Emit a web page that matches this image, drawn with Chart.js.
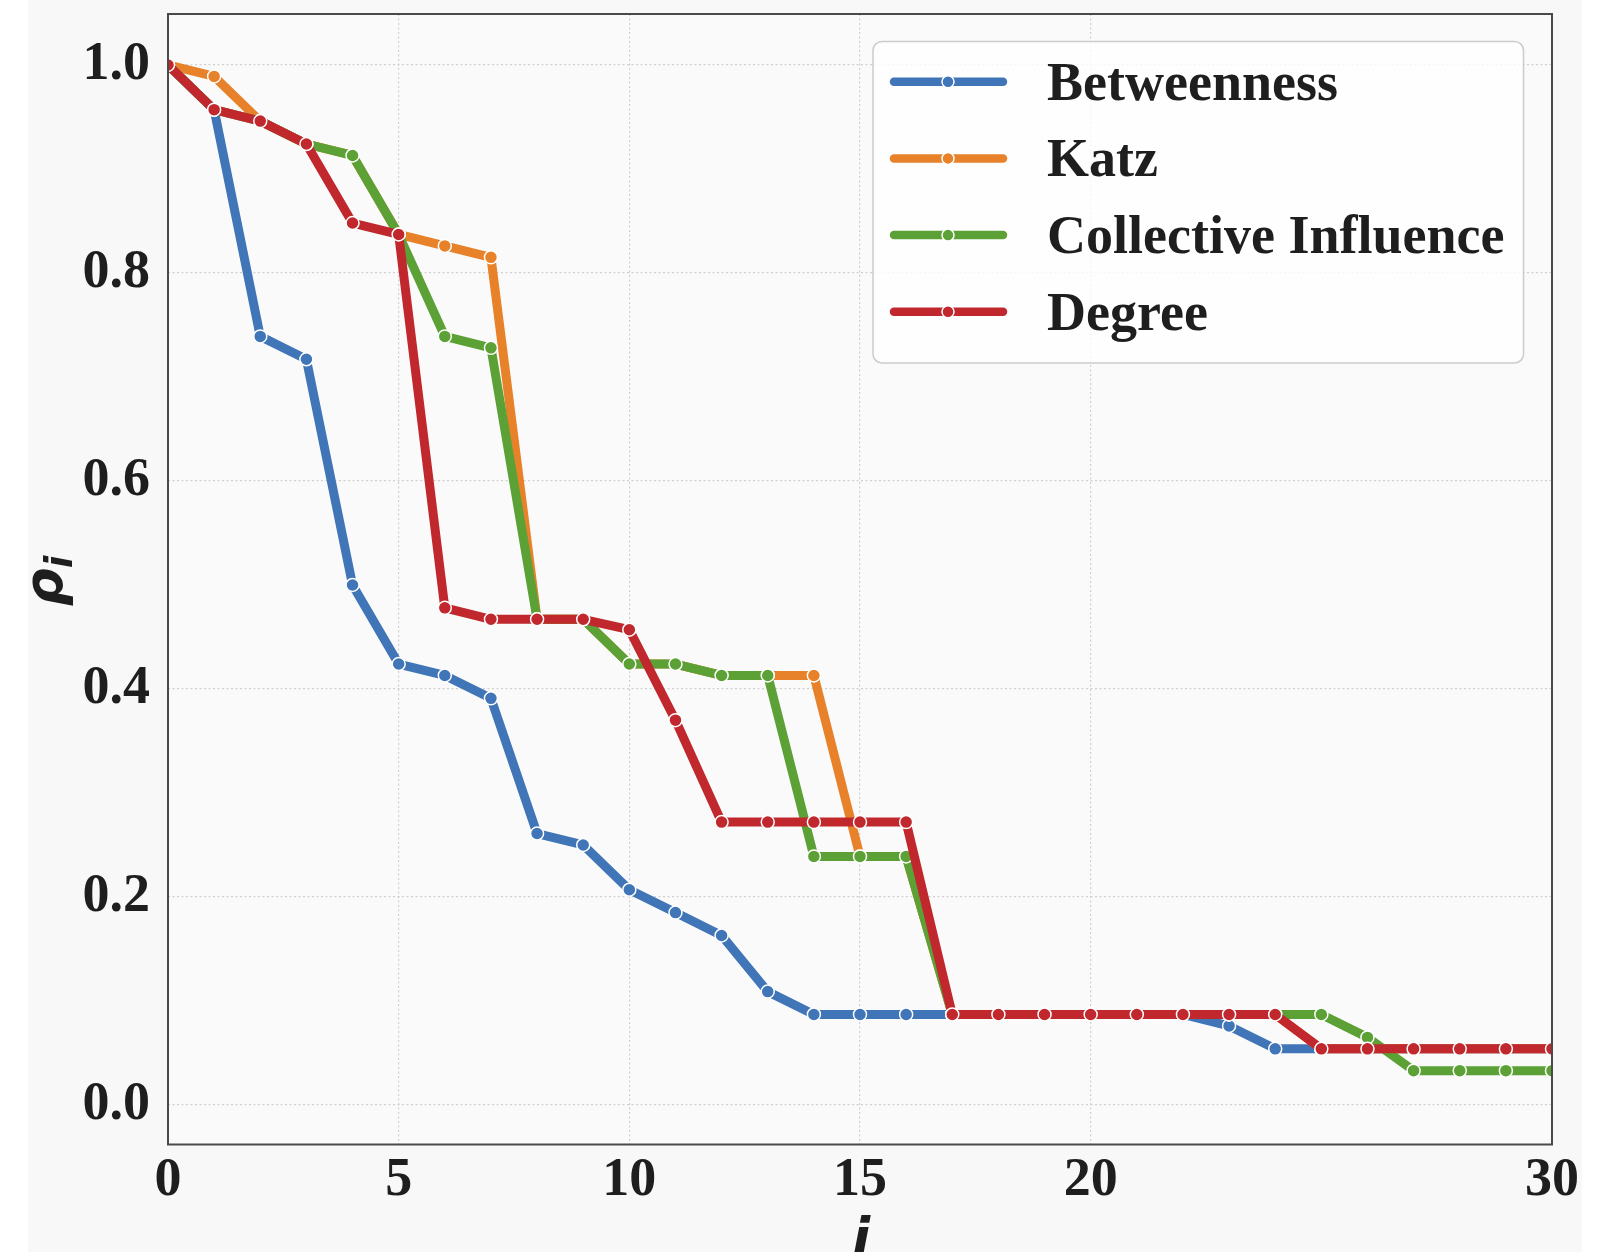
<!DOCTYPE html>
<html>
<head>
<meta charset="utf-8">
<script src="https://cdn.jsdelivr.net/npm/chart.js@4.4.1/dist/chart.umd.min.js"></script>
<style>
  html, body { margin: 0; padding: 0; background: #ffffff; }
  canvas { display: block; }
</style>
</head>
<body>
<canvas id="c" width="1611" height="1252"></canvas>
<script>
// removal step i
var steps = [0,1,2,3,4,5,6,7,8,9,10,11,12,13,14,15,16,17,18,19,20,21,22,23,24,25,26,27,28,29,30];

// rho_i for each ranking
var betweenness = [1.0,0.957,0.739,0.717,0.5,0.424,0.413,0.391,0.261,0.25,0.207,0.185,0.163,0.109,0.087,0.087,0.087,0.087,0.087,0.087,0.087,0.087,0.087,0.076,0.054,0.054,0.054,0.054,0.054,0.054,0.054];
var katz = [1.0,0.989,0.946,0.924,0.913,0.837,0.826,0.815,0.467,0.467,0.424,0.424,0.413,0.413,0.413,0.239,0.239,0.087,0.087,0.087,0.087,0.087,0.087,0.087,0.087,0.054,0.054,0.054,0.054,0.054,0.054];
var collective = [1.0,0.957,0.946,0.924,0.913,0.837,0.739,0.728,0.467,0.467,0.424,0.424,0.413,0.413,0.239,0.239,0.239,0.087,0.087,0.087,0.087,0.087,0.087,0.087,0.087,0.087,0.065,0.033,0.033,0.033,0.033];
var degree = [1.0,0.957,0.946,0.924,0.848,0.837,0.478,0.467,0.467,0.467,0.457,0.37,0.272,0.272,0.272,0.272,0.272,0.087,0.087,0.087,0.087,0.087,0.087,0.087,0.087,0.054,0.054,0.054,0.054,0.054,0.054];

var seriesNames = ['Betweenness', 'Katz', 'Collective Influence', 'Degree'];
var xTicks = [0,5,10,15,20,30];
var yTicks = [0,0.2,0.4,0.6,0.8,1.0];

var colors = ['#4075b7', '#e8822a', '#5ba136', '#c0282d'];

function pts(arr) {
  return arr.map(function(v, k) { return {x: steps[k], y: v}; });
}

function makeSet(k, arr) {
  return {
    label: seriesNames[k],
    data: pts(arr),
    borderColor: colors[k],
    backgroundColor: colors[k],
    borderWidth: 9,
    borderCapStyle: 'round',
    borderJoinStyle: 'round',
    pointRadius: 6.5,
    pointHoverRadius: 6.5,
    pointBackgroundColor: colors[k],
    pointBorderColor: '#ffffff',
    pointBorderWidth: 1.5,
    tension: 0,
    clip: 0,
    order: 3 - k
  };
}

// backgrounds and frame
var frame = {
  id: 'frame',
  beforeDraw: function(chart) {
    var ctx = chart.ctx, a = chart.chartArea;
    ctx.save();
    ctx.fillStyle = '#ffffff';
    ctx.fillRect(0, 0, chart.width, chart.height);
    ctx.fillStyle = '#f8f8f8';
    ctx.fillRect(28, 0, 1554, chart.height);
    ctx.fillStyle = '#fafafa';
    ctx.fillRect(a.left, a.top, a.right - a.left, a.bottom - a.top);
    ctx.restore();
  },
  afterDatasetsDraw: function(chart) {
    var ctx = chart.ctx, a = chart.chartArea;
    ctx.save();
    ctx.strokeStyle = '#4a4a4a';
    ctx.lineWidth = 2;
    ctx.strokeRect(a.left, a.top, a.right - a.left, a.bottom - a.top);
    ctx.restore();
  }
};

// axis titles: rho_i and i
var titles = {
  id: 'titles',
  afterDraw: function(chart) {
    var ctx = chart.ctx;
    ctx.save();
    ctx.fillStyle = '#1e1e1e';
    ctx.textBaseline = 'alphabetic';
    ctx.textAlign = 'left';
    ctx.translate(62, 581);
    ctx.rotate(-Math.PI / 2);
    ctx.font = 'italic bold 53px "DejaVu Sans"';
    var w1 = ctx.measureText('ρ').width;
    ctx.font = 'italic bold 37px "DejaVu Sans"';
    var w2 = ctx.measureText('i').width;
    var x0 = -(w1 + w2) / 2;
    ctx.font = 'italic bold 53px "DejaVu Sans"';
    ctx.fillText('ρ', x0, 0);
    ctx.font = 'italic bold 37px "DejaVu Sans"';
    ctx.fillText('i', x0 + w1, 10);
    ctx.restore();

    ctx.save();
    ctx.fillStyle = '#1e1e1e';
    ctx.font = 'italic bold 53px "DejaVu Sans"';
    ctx.textAlign = 'center';
    ctx.textBaseline = 'alphabetic';
    ctx.fillText('i', 861, 1256);
    ctx.restore();
  }
};

// legend drawn in a framed box, top right
var legendBox = {
  id: 'legendBox',
  afterDraw: function(chart) {
    var ctx = chart.ctx;
    ctx.save();
    var bx = 873, by = 41.5, bw = 650.5, bh = 321.5, r = 9;
    ctx.beginPath();
    ctx.moveTo(bx + r, by);
    ctx.arcTo(bx + bw, by, bx + bw, by + bh, r);
    ctx.arcTo(bx + bw, by + bh, bx, by + bh, r);
    ctx.arcTo(bx, by + bh, bx, by, r);
    ctx.arcTo(bx, by, bx + bw, by, r);
    ctx.closePath();
    ctx.fillStyle = 'rgba(255,255,255,0.8)';
    ctx.fill();
    ctx.strokeStyle = '#cccccc';
    ctx.lineWidth = 1.5;
    ctx.stroke();

    chart.data.datasets.forEach(function(ds, k) {
      var y = 81.7 + k * 76.7;
      ctx.beginPath();
      ctx.moveTo(894, y);
      ctx.lineTo(1003, y);
      ctx.strokeStyle = ds.borderColor;
      ctx.lineWidth = 8.5;
      ctx.lineCap = 'round';
      ctx.stroke();
      ctx.beginPath();
      ctx.arc(948, y, 6, 0, Math.PI * 2);
      ctx.fillStyle = ds.borderColor;
      ctx.fill();
      ctx.strokeStyle = '#ffffff';
      ctx.lineWidth = 1.5;
      ctx.stroke();
      ctx.fillStyle = '#1e1e1e';
      ctx.font = 'bold 54px "Liberation Serif"';
      ctx.textAlign = 'left';
      ctx.textBaseline = 'alphabetic';
      ctx.fillText(ds.label, 1047, y + 18);
    });
    ctx.restore();
  }
};

var ctx = document.getElementById('c').getContext('2d');
var chart = new Chart(ctx, {
  type: 'line',
  data: {
    datasets: [
      makeSet(0, betweenness),
      makeSet(1, katz),
      makeSet(2, collective),
      makeSet(3, degree)
    ]
  },
  options: {
    responsive: false,
    animation: false,
    layout: { padding: { top: 14, right: 59, left: 0, bottom: 0 } },
    plugins: {
      legend: { display: false },
      tooltip: { enabled: false }
    },
    scales: {
      x: {
        type: 'linear',
        min: 0,
        max: 30,
        afterBuildTicks: function(scale) {
          scale.ticks = xTicks.map(function(v) { return {value: v}; });
        },
        afterFit: function(scale) {
          scale.height = 107.5;
          scale.paddingLeft = 0;
          scale.paddingRight = 0;
        },
        ticks: {
          autoSkip: false,
          maxRotation: 0,
          padding: 4,
          color: '#1e1e1e',
          font: { family: '"Liberation Serif"', size: 54, weight: 'bold' },
          callback: function(v) { return String(v); }
        },
        grid: { color: '#cfcfcf', lineWidth: 1.2, drawTicks: false },
        border: { display: false, dash: [2, 2.5] }
      },
      y: {
        min: -0.038,
        max: 1.049,
        afterBuildTicks: function(scale) {
          scale.ticks = yTicks.map(function(v) { return {value: v}; });
        },
        afterFit: function(scale) {
          scale.width = 168;
          scale.paddingTop = 0;
          scale.paddingBottom = 0;
        },
        ticks: {
          padding: 18,
          color: '#1e1e1e',
          font: { family: '"Liberation Serif"', size: 54, weight: 'bold' },
          callback: function(v) { return v.toFixed(1); }
        },
        grid: { color: '#cfcfcf', lineWidth: 1.2, drawTicks: false },
        border: { display: false, dash: [2, 2.5] }
      }
    }
  },
  plugins: [frame, titles, legendBox]
});
</script>
</body>
</html>
